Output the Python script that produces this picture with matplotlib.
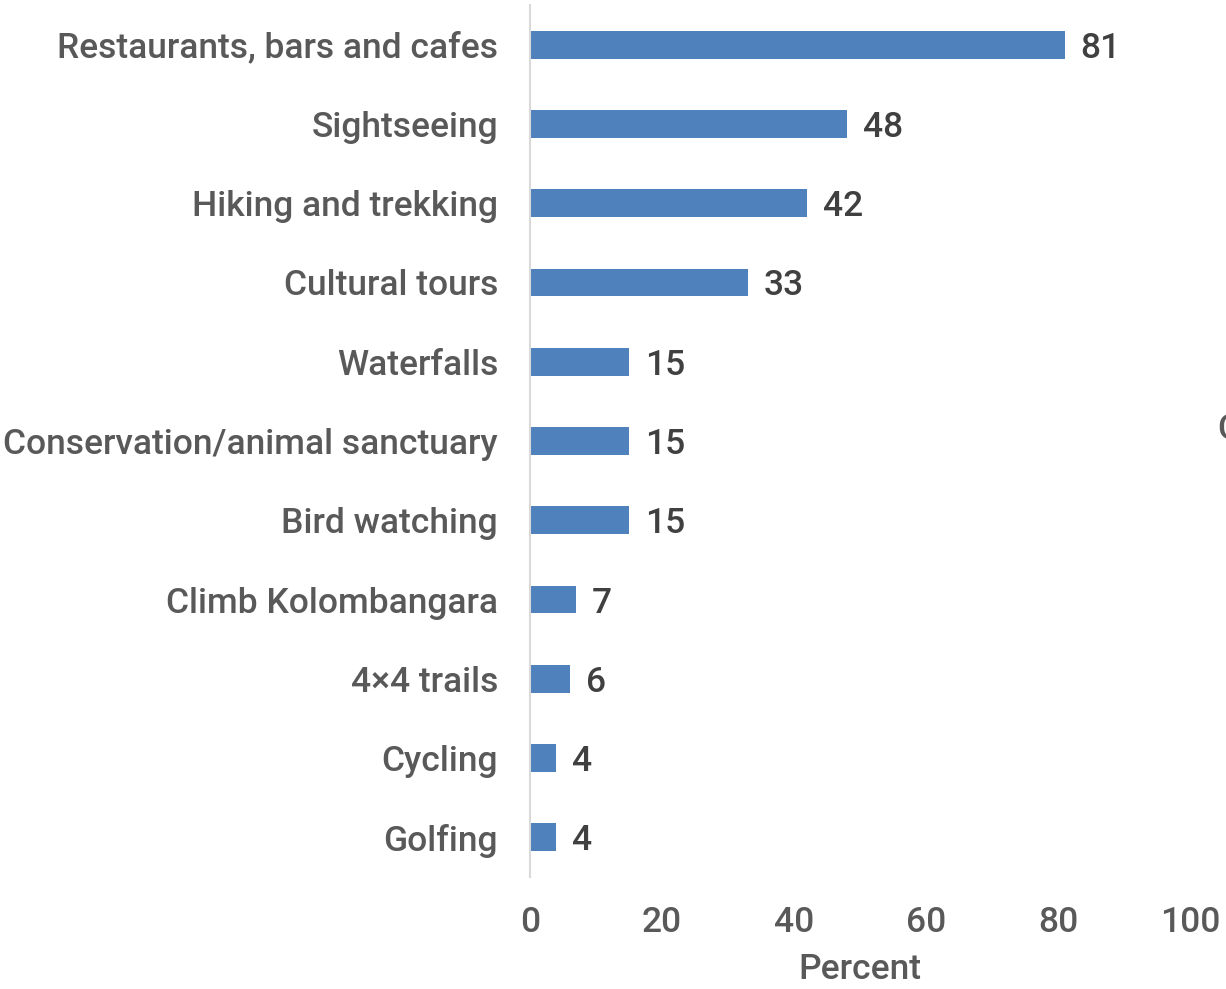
import matplotlib
matplotlib.use("Agg")
import matplotlib.pyplot as plt

categories = ["Restaurants, bars and cafes", "Sightseeing", "Hiking and trekking",
              "Cultural tours", "Waterfalls", "Conservation/animal sanctuary",
              "Bird watching", "Climb Kolombangara", "4×4 trails", "Cycling", "Golfing"]
values = [81, 48, 42, 33, 15, 15, 15, 7, 6, 4, 4]
xticks = [0, 20, 40, 60, 80, 100]

plt.rcParams['font.family'] = ['Roboto', 'DejaVu Sans']
FS = 25.5
W = 'medium'

fig = plt.figure(figsize=(12.26, 9.89), dpi=100)
ax = fig.add_axes([530/1226, 1-877/989, 660/1226, 872/989])

ypos = list(range(len(categories)))
ax.barh(ypos, values, height=0.35, color='#4F81BD', zorder=2)
ax.set_ylim(len(categories)-0.5, -0.5)
ax.set_xlim(0, 100)
ax.set_yticks(ypos)
ax.set_yticklabels(categories, fontsize=FS, color='#595959', fontweight=W)
ax.set_xticks(xticks)
ax.set_xticklabels([str(t) for t in xticks], fontsize=FS, color='#595959', fontweight=W)
ax.tick_params(axis='both', length=0)
ax.tick_params(axis='y', pad=23)
ax.tick_params(axis='x', pad=21)
for s in ['top', 'right', 'bottom']:
    ax.spines[s].set_visible(False)
ax.spines['left'].set_color('#D9D9D9')
ax.spines['left'].set_linewidth(1.5)

for y, v in zip(ypos, values):
    ax.annotate(str(v), (v, y), xytext=(11.5, 0), textcoords='offset points',
                ha='left', va='center_baseline', fontsize=FS, color='#404040', fontweight=W)

ax.set_xlabel('Percent', fontsize=FS, color='#595959', fontweight=W, labelpad=10)
fig.text(1217/1226, 1-430/989, 'C', fontsize=FS, color='#595959', fontweight=W,
         ha='left', va='center')

fig.savefig('out.png', dpi=100)
